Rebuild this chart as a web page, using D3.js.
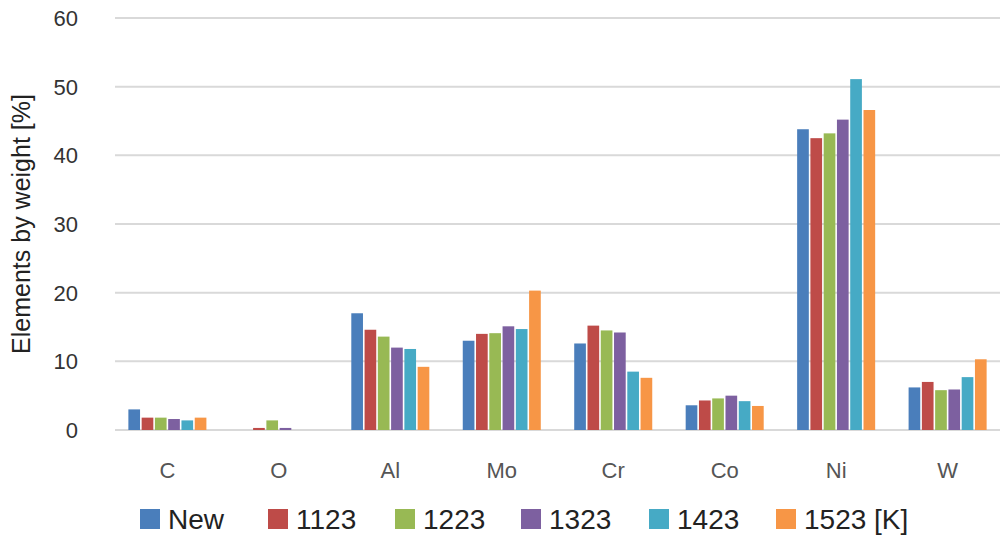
<!DOCTYPE html>
<html><head><meta charset="utf-8">
<script src="https://cdn.jsdelivr.net/npm/d3@7"></script>
<style>body{margin:0;background:#fff;font-family:Arial,"Liberation Sans",sans-serif}</style>
</head><body><svg id="c" width="1005" height="543"></svg>
<script>
var elements = ['C', 'O', 'Al', 'Mo', 'Cr', 'Co', 'Ni', 'W'];
var seriesNames = ['New', '1123', '1223', '1323', '1423', '1523 [K]'];
var colors = ['#4a7ebb', '#be4b48', '#98b954', '#7d60a0', '#46aac5', '#f79646'];
var sNew = [3.0, 0, 17.0, 13.0, 12.6, 3.6, 43.8, 6.2];
var s1123 = [1.8, 0.3, 14.6, 14.0, 15.2, 4.3, 42.5, 7.0];
var s1223 = [1.8, 1.4, 13.6, 14.1, 14.5, 4.6, 43.2, 5.8];
var s1323 = [1.6, 0.3, 12.0, 15.1, 14.2, 5.0, 45.2, 5.9];
var s1423 = [1.4, 0, 11.8, 14.7, 8.5, 4.2, 51.1, 7.7];
var s1523 = [1.8, 0, 9.2, 20.3, 7.6, 3.5, 46.6, 10.3];
var series = [sNew, s1123, s1223, s1323, s1423, s1523];
var yTicks = [0, 10, 20, 30, 40, 50, 60];

(function(){
	var svg = d3.select('#c');
	var left = 115, right = 1000, plotTop = 18, bottom = 430;

	var x = d3.scaleBand().domain(elements).range([left, right]).paddingInner(0.3).paddingOuter(0.12);
	var xs = d3.scaleBand().domain(d3.range(seriesNames.length)).range([0, x.bandwidth()]).paddingInner(0.12);
	var y = d3.scaleLinear().domain([0, 60]).range([bottom, plotTop]);

	// gridlines
	svg.append('g').selectAll('line').data(yTicks).join('line')
		.attr('x1', left).attr('x2', right)
		.attr('y1', function(d){ return y(d); }).attr('y2', function(d){ return y(d); })
		.attr('stroke', '#d9d9d9').attr('stroke-width', 2);

	svg.append('g').selectAll('text').data(yTicks).join('text')
		.attr('x', 78).attr('y', function(d){ return y(d) + 8; })
		.attr('text-anchor', 'end').attr('font-size', 22).attr('fill', '#333')
		.text(function(d){ return d; });

	svg.append('text')
		.attr('transform', 'translate(30,' + ((plotTop + bottom) / 2) + ') rotate(-90)')
		.attr('text-anchor', 'middle').attr('font-size', 25).attr('fill', '#222')
		.text('Elements by weight [%]');

	// bars
	series.forEach(function(vals, si){
		svg.append('g').selectAll('rect').data(vals).join('rect')
			.attr('x', function(d, i){ return x(elements[i]) + xs(si); })
			.attr('width', xs.bandwidth())
			.attr('y', function(d){ return y(d); })
			.attr('height', function(d){ return bottom - y(d); })
			.attr('fill', colors[si]);
	});

	svg.append('g').selectAll('text').data(elements).join('text')
		.attr('x', function(d){ return x(d) + x.bandwidth() / 2; }).attr('y', 478)
		.attr('text-anchor', 'middle').attr('font-size', 22).attr('fill', '#555')
		.text(function(d){ return d; });

	// legend
	var legX = [140, 268, 395, 521, 649, 776];
	var leg = svg.append('g').selectAll('g').data(seriesNames).join('g')
		.attr('transform', function(d, i){ return 'translate(' + legX[i] + ',509)'; });
	leg.append('rect').attr('width', 20).attr('height', 20).attr('fill', function(d, i){ return colors[i]; });
	leg.append('text').attr('x', 28).attr('y', 20).attr('font-size', 28).attr('fill', '#222')
		.text(function(d){ return d; });
})();
</script></body></html>
